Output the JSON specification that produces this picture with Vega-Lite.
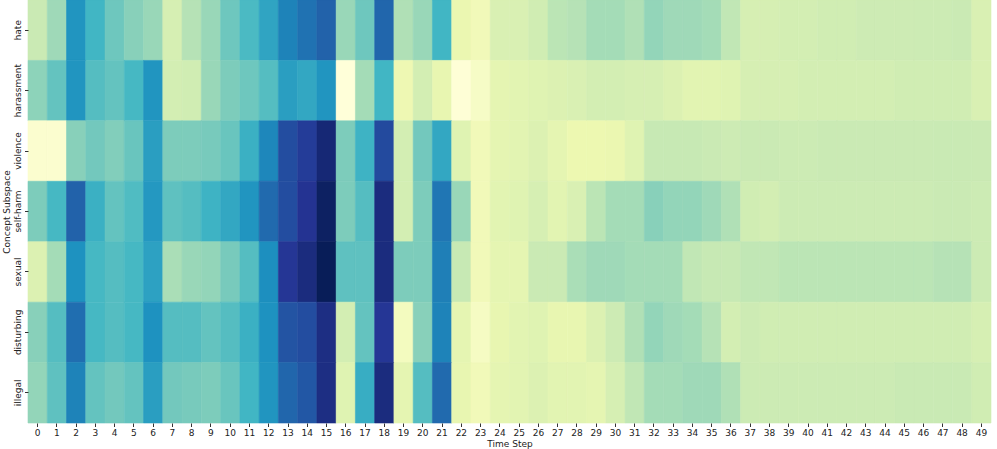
{
  "$schema": "https://vega.github.io/schema/vega-lite/v6.json",
  "autosize": {"type": "none"},
  "padding": {"left": 28, "top": 0, "right": 6, "bottom": 26},
  "width": 963,
  "height": 423,
  "background": "white",
  "config": {"view": {"stroke": null}, "font": "DejaVu Sans"},
  "datasets": {
    "rows": [
      {"c":"hate","t":0,"v":0.24},{"c":"hate","t":1,"v":0.32},{"c":"hate","t":2,"v":0.61},{"c":"hate","t":3,"v":0.5},{"c":"hate","t":4,"v":0.41},{"c":"hate","t":5,"v":0.36},{"c":"hate","t":6,"v":0.33},{"c":"hate","t":7,"v":0.2},{"c":"hate","t":8,"v":0.28},{"c":"hate","t":9,"v":0.33},
      {"c":"hate","t":10,"v":0.41},{"c":"hate","t":11,"v":0.48},{"c":"hate","t":12,"v":0.56},{"c":"hate","t":13,"v":0.66},{"c":"hate","t":14,"v":0.7},{"c":"hate","t":15,"v":0.74},{"c":"hate","t":16,"v":0.33},{"c":"hate","t":17,"v":0.41},{"c":"hate","t":18,"v":0.73},{"c":"hate","t":19,"v":0.29},
      {"c":"hate","t":20,"v":0.33},{"c":"hate","t":21,"v":0.5},{"c":"hate","t":22,"v":0.13},{"c":"hate","t":23,"v":0.1},{"c":"hate","t":24,"v":0.19},{"c":"hate","t":25,"v":0.19},{"c":"hate","t":26,"v":0.22},{"c":"hate","t":27,"v":0.27},{"c":"hate","t":28,"v":0.28},{"c":"hate","t":29,"v":0.31},
      {"c":"hate","t":30,"v":0.31},{"c":"hate","t":31,"v":0.29},{"c":"hate","t":32,"v":0.34},{"c":"hate","t":33,"v":0.32},{"c":"hate","t":34,"v":0.32},{"c":"hate","t":35,"v":0.31},{"c":"hate","t":36,"v":0.26},{"c":"hate","t":37,"v":0.2},{"c":"hate","t":38,"v":0.2},{"c":"hate","t":39,"v":0.21},
      {"c":"hate","t":40,"v":0.21},{"c":"hate","t":41,"v":0.22},{"c":"hate","t":42,"v":0.22},{"c":"hate","t":43,"v":0.23},{"c":"hate","t":44,"v":0.23},{"c":"hate","t":45,"v":0.23},{"c":"hate","t":46,"v":0.235},{"c":"hate","t":47,"v":0.235},{"c":"hate","t":48,"v":0.24},{"c":"hate","t":49,"v":0.19},

      {"c":"harassment","t":0,"v":0.35},{"c":"harassment","t":1,"v":0.43},{"c":"harassment","t":2,"v":0.61},{"c":"harassment","t":3,"v":0.46},{"c":"harassment","t":4,"v":0.43},{"c":"harassment","t":5,"v":0.49},{"c":"harassment","t":6,"v":0.61},{"c":"harassment","t":7,"v":0.21},{"c":"harassment","t":8,"v":0.22},{"c":"harassment","t":9,"v":0.33},
      {"c":"harassment","t":10,"v":0.38},{"c":"harassment","t":11,"v":0.41},{"c":"harassment","t":12,"v":0.46},{"c":"harassment","t":13,"v":0.58},{"c":"harassment","t":14,"v":0.55},{"c":"harassment","t":15,"v":0.61},{"c":"harassment","t":16,"v":0.0},{"c":"harassment","t":17,"v":0.31},{"c":"harassment","t":18,"v":0.5},{"c":"harassment","t":19,"v":0.12},
      {"c":"harassment","t":20,"v":0.21},{"c":"harassment","t":21,"v":0.14},{"c":"harassment","t":22,"v":0.01},{"c":"harassment","t":23,"v":0.06},{"c":"harassment","t":24,"v":0.15},{"c":"harassment","t":25,"v":0.16},{"c":"harassment","t":26,"v":0.17},{"c":"harassment","t":27,"v":0.18},{"c":"harassment","t":28,"v":0.19},{"c":"harassment","t":29,"v":0.21},
      {"c":"harassment","t":30,"v":0.21},{"c":"harassment","t":31,"v":0.2},{"c":"harassment","t":32,"v":0.2},{"c":"harassment","t":33,"v":0.18},{"c":"harassment","t":34,"v":0.16},{"c":"harassment","t":35,"v":0.16},{"c":"harassment","t":36,"v":0.17},{"c":"harassment","t":37,"v":0.2},{"c":"harassment","t":38,"v":0.2},{"c":"harassment","t":39,"v":0.2},
      {"c":"harassment","t":40,"v":0.21},{"c":"harassment","t":41,"v":0.21},{"c":"harassment","t":42,"v":0.21},{"c":"harassment","t":43,"v":0.21},{"c":"harassment","t":44,"v":0.21},{"c":"harassment","t":45,"v":0.22},{"c":"harassment","t":46,"v":0.22},{"c":"harassment","t":47,"v":0.22},{"c":"harassment","t":48,"v":0.22},{"c":"harassment","t":49,"v":0.19},

      {"c":"violence","t":0,"v":0.03},{"c":"violence","t":1,"v":0.03},{"c":"violence","t":2,"v":0.36},{"c":"violence","t":3,"v":0.4},{"c":"violence","t":4,"v":0.37},{"c":"violence","t":5,"v":0.42},{"c":"violence","t":6,"v":0.58},{"c":"violence","t":7,"v":0.38},{"c":"violence","t":8,"v":0.38},{"c":"violence","t":9,"v":0.39},
      {"c":"violence","t":10,"v":0.42},{"c":"violence","t":11,"v":0.52},{"c":"violence","t":12,"v":0.65},{"c":"violence","t":13,"v":0.8},{"c":"violence","t":14,"v":0.85},{"c":"violence","t":15,"v":0.94},{"c":"violence","t":16,"v":0.38},{"c":"violence","t":17,"v":0.51},{"c":"violence","t":18,"v":0.81},{"c":"violence","t":19,"v":0.21},
      {"c":"violence","t":20,"v":0.4},{"c":"violence","t":21,"v":0.55},{"c":"violence","t":22,"v":0.17},{"c":"violence","t":23,"v":0.1},{"c":"violence","t":24,"v":0.15},{"c":"violence","t":25,"v":0.16},{"c":"violence","t":26,"v":0.18},{"c":"violence","t":27,"v":0.15},{"c":"violence","t":28,"v":0.125},{"c":"violence","t":29,"v":0.125},
      {"c":"violence","t":30,"v":0.13},{"c":"violence","t":31,"v":0.17},{"c":"violence","t":32,"v":0.25},{"c":"violence","t":33,"v":0.25},{"c":"violence","t":34,"v":0.25},{"c":"violence","t":35,"v":0.24},{"c":"violence","t":36,"v":0.23},{"c":"violence","t":37,"v":0.24},{"c":"violence","t":38,"v":0.24},{"c":"violence","t":39,"v":0.235},
      {"c":"violence","t":40,"v":0.235},{"c":"violence","t":41,"v":0.24},{"c":"violence","t":42,"v":0.24},{"c":"violence","t":43,"v":0.24},{"c":"violence","t":44,"v":0.24},{"c":"violence","t":45,"v":0.24},{"c":"violence","t":46,"v":0.24},{"c":"violence","t":47,"v":0.245},{"c":"violence","t":48,"v":0.245},{"c":"violence","t":49,"v":0.24},

      {"c":"self-harm","t":0,"v":0.38},{"c":"self-harm","t":1,"v":0.49},{"c":"self-harm","t":2,"v":0.74},{"c":"self-harm","t":3,"v":0.52},{"c":"self-harm","t":4,"v":0.43},{"c":"self-harm","t":5,"v":0.47},{"c":"self-harm","t":6,"v":0.6},{"c":"self-harm","t":7,"v":0.44},{"c":"self-harm","t":8,"v":0.46},{"c":"self-harm","t":9,"v":0.51},
      {"c":"self-harm","t":10,"v":0.55},{"c":"self-harm","t":11,"v":0.61},{"c":"self-harm","t":12,"v":0.72},{"c":"self-harm","t":13,"v":0.8},{"c":"self-harm","t":14,"v":0.88},{"c":"self-harm","t":15,"v":0.98},{"c":"self-harm","t":16,"v":0.38},{"c":"self-harm","t":17,"v":0.46},{"c":"self-harm","t":18,"v":0.92},{"c":"self-harm","t":19,"v":0.21},
      {"c":"self-harm","t":20,"v":0.38},{"c":"self-harm","t":21,"v":0.69},{"c":"self-harm","t":22,"v":0.33},{"c":"self-harm","t":23,"v":0.1},{"c":"self-harm","t":24,"v":0.16},{"c":"self-harm","t":25,"v":0.17},{"c":"self-harm","t":26,"v":0.2},{"c":"self-harm","t":27,"v":0.16},{"c":"self-harm","t":28,"v":0.19},{"c":"self-harm","t":29,"v":0.27},
      {"c":"self-harm","t":30,"v":0.31},{"c":"self-harm","t":31,"v":0.31},{"c":"self-harm","t":32,"v":0.36},{"c":"self-harm","t":33,"v":0.34},{"c":"self-harm","t":34,"v":0.34},{"c":"self-harm","t":35,"v":0.32},{"c":"self-harm","t":36,"v":0.29},{"c":"self-harm","t":37,"v":0.22},{"c":"self-harm","t":38,"v":0.21},{"c":"self-harm","t":39,"v":0.235},
      {"c":"self-harm","t":40,"v":0.235},{"c":"self-harm","t":41,"v":0.235},{"c":"self-harm","t":42,"v":0.235},{"c":"self-harm","t":43,"v":0.235},{"c":"self-harm","t":44,"v":0.235},{"c":"self-harm","t":45,"v":0.235},{"c":"self-harm","t":46,"v":0.235},{"c":"self-harm","t":47,"v":0.24},{"c":"self-harm","t":48,"v":0.24},{"c":"self-harm","t":49,"v":0.235},

      {"c":"sexual","t":0,"v":0.18},{"c":"sexual","t":1,"v":0.31},{"c":"sexual","t":2,"v":0.62},{"c":"sexual","t":3,"v":0.49},{"c":"sexual","t":4,"v":0.46},{"c":"sexual","t":5,"v":0.49},{"c":"sexual","t":6,"v":0.57},{"c":"sexual","t":7,"v":0.3},{"c":"sexual","t":8,"v":0.33},{"c":"sexual","t":9,"v":0.34},
      {"c":"sexual","t":10,"v":0.39},{"c":"sexual","t":11,"v":0.46},{"c":"sexual","t":12,"v":0.63},{"c":"sexual","t":13,"v":0.87},{"c":"sexual","t":14,"v":0.92},{"c":"sexual","t":15,"v":1.0},{"c":"sexual","t":16,"v":0.44},{"c":"sexual","t":17,"v":0.44},{"c":"sexual","t":18,"v":0.92},{"c":"sexual","t":19,"v":0.38},
      {"c":"sexual","t":20,"v":0.38},{"c":"sexual","t":21,"v":0.67},{"c":"sexual","t":22,"v":0.25},{"c":"sexual","t":23,"v":0.1},{"c":"sexual","t":24,"v":0.15},{"c":"sexual","t":25,"v":0.15},{"c":"sexual","t":26,"v":0.24},{"c":"sexual","t":27,"v":0.24},{"c":"sexual","t":28,"v":0.3},{"c":"sexual","t":29,"v":0.32},
      {"c":"sexual","t":30,"v":0.32},{"c":"sexual","t":31,"v":0.31},{"c":"sexual","t":32,"v":0.31},{"c":"sexual","t":33,"v":0.31},{"c":"sexual","t":34,"v":0.26},{"c":"sexual","t":35,"v":0.25},{"c":"sexual","t":36,"v":0.25},{"c":"sexual","t":37,"v":0.26},{"c":"sexual","t":38,"v":0.26},{"c":"sexual","t":39,"v":0.27},
      {"c":"sexual","t":40,"v":0.27},{"c":"sexual","t":41,"v":0.27},{"c":"sexual","t":42,"v":0.27},{"c":"sexual","t":43,"v":0.27},{"c":"sexual","t":44,"v":0.27},{"c":"sexual","t":45,"v":0.27},{"c":"sexual","t":46,"v":0.27},{"c":"sexual","t":47,"v":0.28},{"c":"sexual","t":48,"v":0.28},{"c":"sexual","t":49,"v":0.235},

      {"c":"disturbing","t":0,"v":0.36},{"c":"disturbing","t":1,"v":0.46},{"c":"disturbing","t":2,"v":0.71},{"c":"disturbing","t":3,"v":0.49},{"c":"disturbing","t":4,"v":0.46},{"c":"disturbing","t":5,"v":0.49},{"c":"disturbing","t":6,"v":0.62},{"c":"disturbing","t":7,"v":0.46},{"c":"disturbing","t":8,"v":0.46},{"c":"disturbing","t":9,"v":0.43},
      {"c":"disturbing","t":10,"v":0.46},{"c":"disturbing","t":11,"v":0.52},{"c":"disturbing","t":12,"v":0.62},{"c":"disturbing","t":13,"v":0.78},{"c":"disturbing","t":14,"v":0.8},{"c":"disturbing","t":15,"v":0.91},{"c":"disturbing","t":16,"v":0.21},{"c":"disturbing","t":17,"v":0.43},{"c":"disturbing","t":18,"v":0.87},{"c":"disturbing","t":19,"v":0.08},
      {"c":"disturbing","t":20,"v":0.36},{"c":"disturbing","t":21,"v":0.66},{"c":"disturbing","t":22,"v":0.15},{"c":"disturbing","t":23,"v":0.07},{"c":"disturbing","t":24,"v":0.14},{"c":"disturbing","t":25,"v":0.16},{"c":"disturbing","t":26,"v":0.17},{"c":"disturbing","t":27,"v":0.14},{"c":"disturbing","t":28,"v":0.14},{"c":"disturbing","t":29,"v":0.18},
      {"c":"disturbing","t":30,"v":0.23},{"c":"disturbing","t":31,"v":0.29},{"c":"disturbing","t":32,"v":0.34},{"c":"disturbing","t":33,"v":0.32},{"c":"disturbing","t":34,"v":0.31},{"c":"disturbing","t":35,"v":0.28},{"c":"disturbing","t":36,"v":0.21},{"c":"disturbing","t":37,"v":0.23},{"c":"disturbing","t":38,"v":0.22},{"c":"disturbing","t":39,"v":0.22},
      {"c":"disturbing","t":40,"v":0.22},{"c":"disturbing","t":41,"v":0.22},{"c":"disturbing","t":42,"v":0.22},{"c":"disturbing","t":43,"v":0.22},{"c":"disturbing","t":44,"v":0.22},{"c":"disturbing","t":45,"v":0.22},{"c":"disturbing","t":46,"v":0.22},{"c":"disturbing","t":47,"v":0.22},{"c":"disturbing","t":48,"v":0.22},{"c":"disturbing","t":49,"v":0.2},

      {"c":"illegal","t":0,"v":0.34},{"c":"illegal","t":1,"v":0.44},{"c":"illegal","t":2,"v":0.66},{"c":"illegal","t":3,"v":0.43},{"c":"illegal","t":4,"v":0.4},{"c":"illegal","t":5,"v":0.43},{"c":"illegal","t":6,"v":0.58},{"c":"illegal","t":7,"v":0.4},{"c":"illegal","t":8,"v":0.39},{"c":"illegal","t":9,"v":0.38},
      {"c":"illegal","t":10,"v":0.42},{"c":"illegal","t":11,"v":0.5},{"c":"illegal","t":12,"v":0.61},{"c":"illegal","t":13,"v":0.73},{"c":"illegal","t":14,"v":0.77},{"c":"illegal","t":15,"v":0.91},{"c":"illegal","t":16,"v":0.17},{"c":"illegal","t":17,"v":0.53},{"c":"illegal","t":18,"v":0.92},{"c":"illegal","t":19,"v":0.15},
      {"c":"illegal","t":20,"v":0.46},{"c":"illegal","t":21,"v":0.72},{"c":"illegal","t":22,"v":0.14},{"c":"illegal","t":23,"v":0.1},{"c":"illegal","t":24,"v":0.15},{"c":"illegal","t":25,"v":0.16},{"c":"illegal","t":26,"v":0.18},{"c":"illegal","t":27,"v":0.16},{"c":"illegal","t":28,"v":0.16},{"c":"illegal","t":29,"v":0.15},
      {"c":"illegal","t":30,"v":0.2},{"c":"illegal","t":31,"v":0.26},{"c":"illegal","t":32,"v":0.31},{"c":"illegal","t":33,"v":0.31},{"c":"illegal","t":34,"v":0.32},{"c":"illegal","t":35,"v":0.32},{"c":"illegal","t":36,"v":0.29},{"c":"illegal","t":37,"v":0.235},{"c":"illegal","t":38,"v":0.235},{"c":"illegal","t":39,"v":0.235},
      {"c":"illegal","t":40,"v":0.235},{"c":"illegal","t":41,"v":0.235},{"c":"illegal","t":42,"v":0.235},{"c":"illegal","t":43,"v":0.235},{"c":"illegal","t":44,"v":0.235},{"c":"illegal","t":45,"v":0.245},{"c":"illegal","t":46,"v":0.245},{"c":"illegal","t":47,"v":0.245},{"c":"illegal","t":48,"v":0.245},{"c":"illegal","t":49,"v":0.22}
    ]
  },
  "data": {"name": "rows"},
  "mark": {"type": "rect", "strokeWidth": 0.6},
  "encoding": {
    "x": {
      "field": "t",
      "type": "ordinal",
      "scale": {"paddingInner": 0, "paddingOuter": 0},
      "axis": {
        "title": "Time Step",
        "titleFontSize": 9,
        "titleFontWeight": "normal",
        "titleColor": "#222",
        "titlePadding": 2,
        "labelAngle": 0,
        "labelFontSize": 9,
        "labelColor": "#222",
        "labelPadding": 2,
        "tickSize": 3.5,
        "tickColor": "#333",
        "domain": false
      }
    },
    "y": {
      "field": "c",
      "type": "nominal",
      "sort": ["hate", "harassment", "violence", "self-harm", "sexual", "disturbing", "illegal"],
      "scale": {"paddingInner": 0, "paddingOuter": 0},
      "axis": {
        "title": "Concept Subspace",
        "titleFontSize": 9,
        "titleFontWeight": "normal",
        "titleColor": "#222",
        "titlePadding": 2,
        "labelAngle": 270,
        "labelAlign": "center",
        "labelBaseline": "bottom",
        "labelFontSize": 9,
        "labelColor": "#222",
        "labelPadding": 2,
        "tickSize": 3.5,
        "tickColor": "#333",
        "domain": false
      }
    },
    "color": {
      "field": "v",
      "type": "quantitative",
      "scale": {
        "domain": [0, 0.125, 0.25, 0.375, 0.5, 0.625, 0.75, 0.875, 1],
        "range": ["#ffffd9", "#edf8b1", "#c7e9b4", "#7fcdbb", "#41b6c4", "#1d91c0", "#225ea8", "#253494", "#081d58"],
        "interpolate": "rgb"
      },
      "legend": null
    },
    "stroke": {
      "field": "v",
      "type": "quantitative",
      "scale": {
        "domain": [0, 0.125, 0.25, 0.375, 0.5, 0.625, 0.75, 0.875, 1],
        "range": ["#ffffd9", "#edf8b1", "#c7e9b4", "#7fcdbb", "#41b6c4", "#1d91c0", "#225ea8", "#253494", "#081d58"],
        "interpolate": "rgb"
      },
      "legend": null
    }
  }
}
